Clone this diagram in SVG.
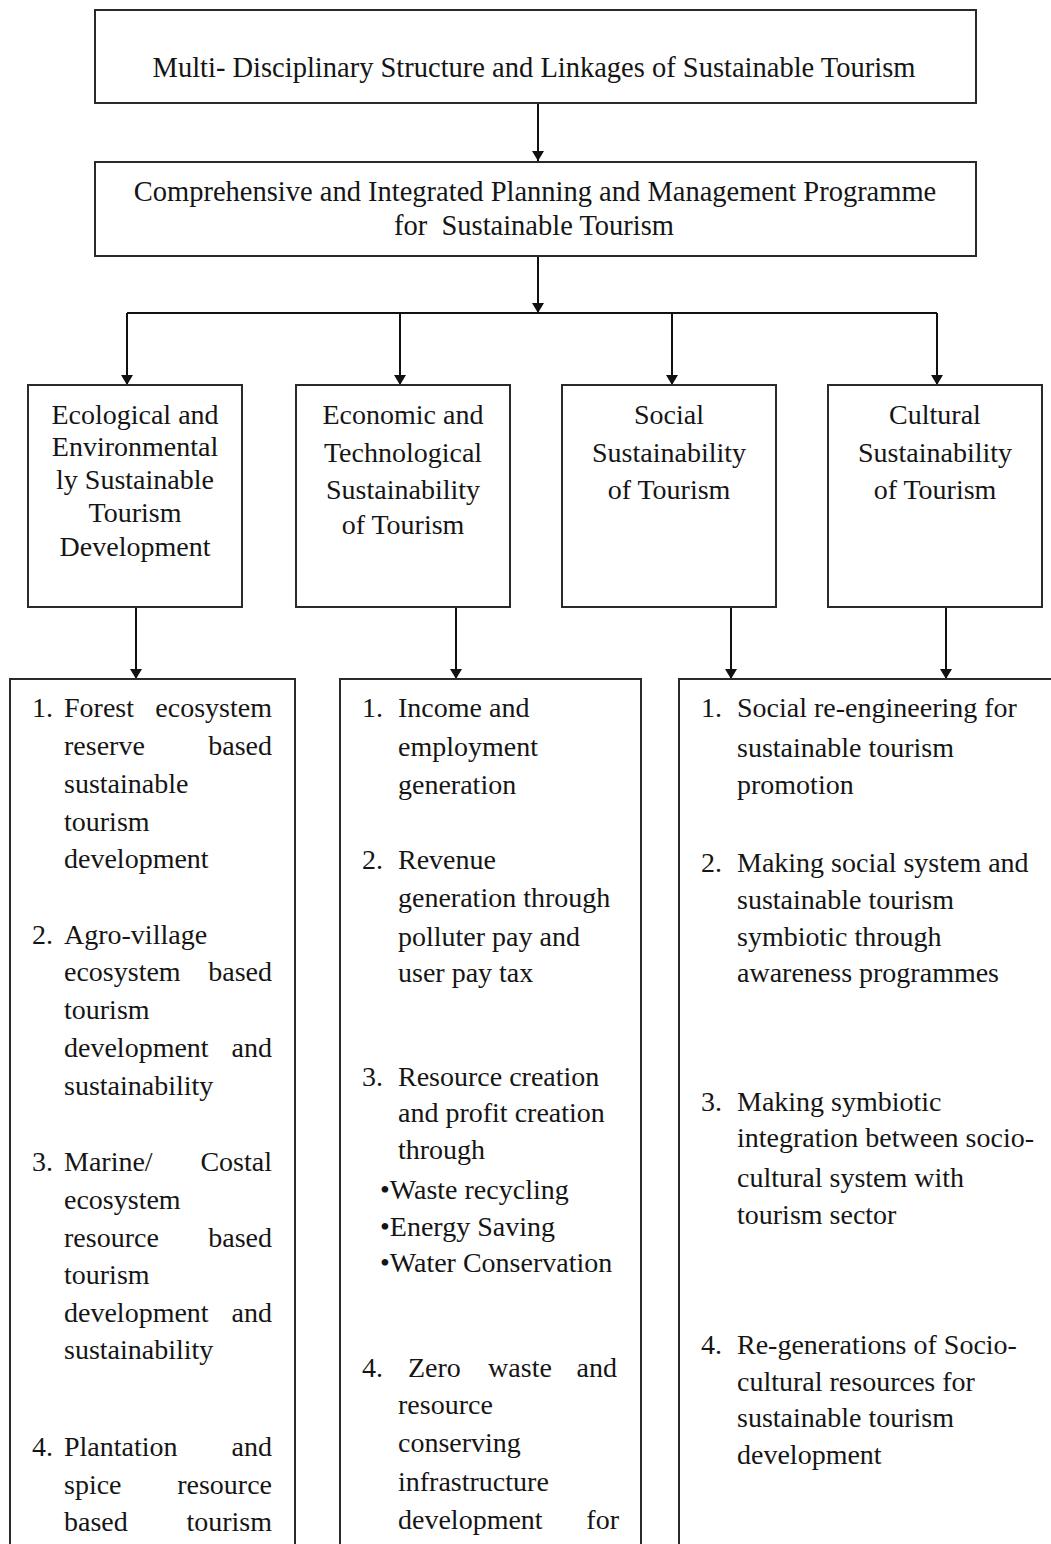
<svg xmlns="http://www.w3.org/2000/svg" width="1051" height="1544" viewBox="0 0 1051 1544">
<defs>
<style>
.box{fill:#fff;stroke:#2a2a2a;stroke-width:2}
.t{font-family:"Liberation Serif","Times New Roman",serif;font-size:28px;fill:#151515}
.h{font-size:28.5px}
.c{text-anchor:middle}
.e{text-anchor:end}
.conn line{stroke:#111;stroke-width:2;fill:none}
</style>
<marker id="ah" viewBox="0 0 10 12" markerWidth="10" markerHeight="12" refX="10" refY="6" orient="auto" markerUnits="userSpaceOnUse">
<path d="M0,0 L10,6 L0,12 z" fill="#111"/>
</marker>
</defs>
<rect width="1051" height="1544" fill="#fff"/>

<g id="conn" class="conn">
<line x1="538" y1="103" x2="538" y2="161" marker-end="url(#ah)"/>
<line x1="538" y1="256" x2="538" y2="313" marker-end="url(#ah)"/>
<line x1="127" y1="313" x2="937" y2="313"/>
<line x1="127" y1="313" x2="127" y2="385" marker-end="url(#ah)"/>
<line x1="400" y1="313" x2="400" y2="385" marker-end="url(#ah)"/>
<line x1="672" y1="313" x2="672" y2="385" marker-end="url(#ah)"/>
<line x1="937" y1="313" x2="937" y2="385" marker-end="url(#ah)"/>
<line x1="136" y1="607" x2="136" y2="679" marker-end="url(#ah)"/>
<line x1="456" y1="607" x2="456" y2="679" marker-end="url(#ah)"/>
<line x1="731" y1="607" x2="731" y2="679" marker-end="url(#ah)"/>
<line x1="946" y1="607" x2="946" y2="679" marker-end="url(#ah)"/>
</g>

<g id="n-top">
<rect class="box" x="95" y="10" width="881" height="93"/>
<text class="t h c" x="534" y="77">Multi- Disciplinary Structure and Linkages of Sustainable Tourism</text>
</g>

<g id="n-plan">
<rect class="box" x="95" y="162" width="881" height="94"/>
<text class="t h c" x="535" y="201">Comprehensive and Integrated Planning and Management Programme</text>
<text class="t h c" x="534" y="235">for&#160; Sustainable Tourism</text>
</g>

<g id="n-eco">
<rect class="box" x="28" y="385" width="214" height="222"/>
<text class="t c" x="135" y="424">Ecological and</text>
<text class="t c" x="135" y="456">Environmental</text>
<text class="t c" x="135" y="489">ly Sustainable</text>
<text class="t c" x="135" y="522">Tourism</text>
<text class="t c" x="135" y="556">Development</text>
</g>

<g id="n-econ">
<rect class="box" x="296" y="385" width="214" height="222"/>
<text class="t c" x="403" y="424">Economic and</text>
<text class="t c" x="403" y="462">Technological</text>
<text class="t c" x="403" y="499">Sustainability</text>
<text class="t c" x="403" y="534">of Tourism</text>
</g>

<g id="n-social">
<rect class="box" x="562" y="385" width="214" height="222"/>
<text class="t c" x="669" y="424">Social</text>
<text class="t c" x="669" y="462">Sustainability</text>
<text class="t c" x="669" y="499">of Tourism</text>
</g>

<g id="n-cultural">
<rect class="box" x="828" y="385" width="214" height="222"/>
<text class="t c" x="935" y="424">Cultural</text>
<text class="t c" x="935" y="462">Sustainability</text>
<text class="t c" x="935" y="499">of Tourism</text>
</g>

<g id="n-eco-list">
<rect class="box" x="10" y="679" width="285" height="900"/>
<text class="t" x="32" y="717">1.</text>
<text class="t" x="64" y="717">Forest</text><text class="t e" x="272" y="717">ecosystem</text>
<text class="t" x="64" y="755">reserve</text><text class="t e" x="272" y="755">based</text>
<text class="t" x="64" y="793">sustainable</text>
<text class="t" x="64" y="831">tourism</text>
<text class="t" x="64" y="868">development</text>
<text class="t" x="32" y="944">2.</text>
<text class="t" x="64" y="944">Agro-village</text>
<text class="t" x="64" y="981">ecosystem</text><text class="t e" x="272" y="981">based</text>
<text class="t" x="64" y="1019">tourism</text>
<text class="t" x="64" y="1057">development</text><text class="t e" x="272" y="1057">and</text>
<text class="t" x="64" y="1095">sustainability</text>
<text class="t" x="32" y="1171">3.</text>
<text class="t" x="64" y="1171">Marine/</text><text class="t e" x="272" y="1171">Costal</text>
<text class="t" x="64" y="1209">ecosystem</text>
<text class="t" x="64" y="1247">resource</text><text class="t e" x="272" y="1247">based</text>
<text class="t" x="64" y="1284">tourism</text>
<text class="t" x="64" y="1322">development</text><text class="t e" x="272" y="1322">and</text>
<text class="t" x="64" y="1359">sustainability</text>
<text class="t" x="32" y="1456">4.</text>
<text class="t" x="64" y="1456">Plantation</text><text class="t e" x="272" y="1456">and</text>
<text class="t" x="64" y="1494">spice</text><text class="t e" x="272" y="1494">resource</text>
<text class="t" x="64" y="1531">based</text><text class="t e" x="272" y="1531">tourism</text>
</g>

<g id="n-econ-list">
<rect class="box" x="340" y="679" width="301" height="900"/>
<text class="t" x="362" y="717">1.</text>
<text class="t" x="398" y="717">Income and</text>
<text class="t" x="398" y="756">employment</text>
<text class="t" x="398" y="794">generation</text>
<text class="t" x="362" y="869">2.</text>
<text class="t" x="398" y="869">Revenue</text>
<text class="t" x="398" y="907">generation through</text>
<text class="t" x="398" y="946">polluter pay and</text>
<text class="t" x="398" y="982">user pay tax</text>
<text class="t" x="362" y="1086">3.</text>
<text class="t" x="398" y="1086">Resource creation</text>
<text class="t" x="398" y="1122">and profit creation</text>
<text class="t" x="398" y="1159">through</text>
<text class="t" x="380" y="1199">•Waste recycling</text>
<text class="t" x="380" y="1236">•Energy Saving</text>
<text class="t" x="380" y="1272">•Water Conservation</text>
<text class="t" x="362" y="1377">4.</text>
<text class="t" x="408" y="1377">Zero</text><text class="t c" x="520" y="1377">waste</text><text class="t e" x="617" y="1377">and</text>
<text class="t" x="398" y="1414">resource</text>
<text class="t" x="398" y="1452">conserving</text>
<text class="t" x="398" y="1491">infrastructure</text>
<text class="t" x="398" y="1529">development</text><text class="t e" x="619" y="1529">for</text>
</g>

<g id="n-social-list">
<rect class="box" x="679" y="679" width="400" height="900"/>
<text class="t" x="701" y="717">1.</text>
<text class="t" x="737" y="717">Social re-engineering for</text>
<text class="t" x="737" y="757">sustainable tourism</text>
<text class="t" x="737" y="794">promotion</text>
<text class="t" x="701" y="872">2.</text>
<text class="t" x="737" y="872">Making social system and</text>
<text class="t" x="737" y="909">sustainable tourism</text>
<text class="t" x="737" y="946">symbiotic through</text>
<text class="t" x="737" y="982">awareness programmes</text>
<text class="t" x="701" y="1111">3.</text>
<text class="t" x="737" y="1111">Making symbiotic</text>
<text class="t" x="737" y="1147">integration between socio-</text>
<text class="t" x="737" y="1187">cultural system with</text>
<text class="t" x="737" y="1224">tourism sector</text>
<text class="t" x="701" y="1354">4.</text>
<text class="t" x="737" y="1354">Re-generations of Socio-</text>
<text class="t" x="737" y="1391">cultural resources for</text>
<text class="t" x="737" y="1427">sustainable tourism</text>
<text class="t" x="737" y="1464">development</text>
</g>
</svg>
